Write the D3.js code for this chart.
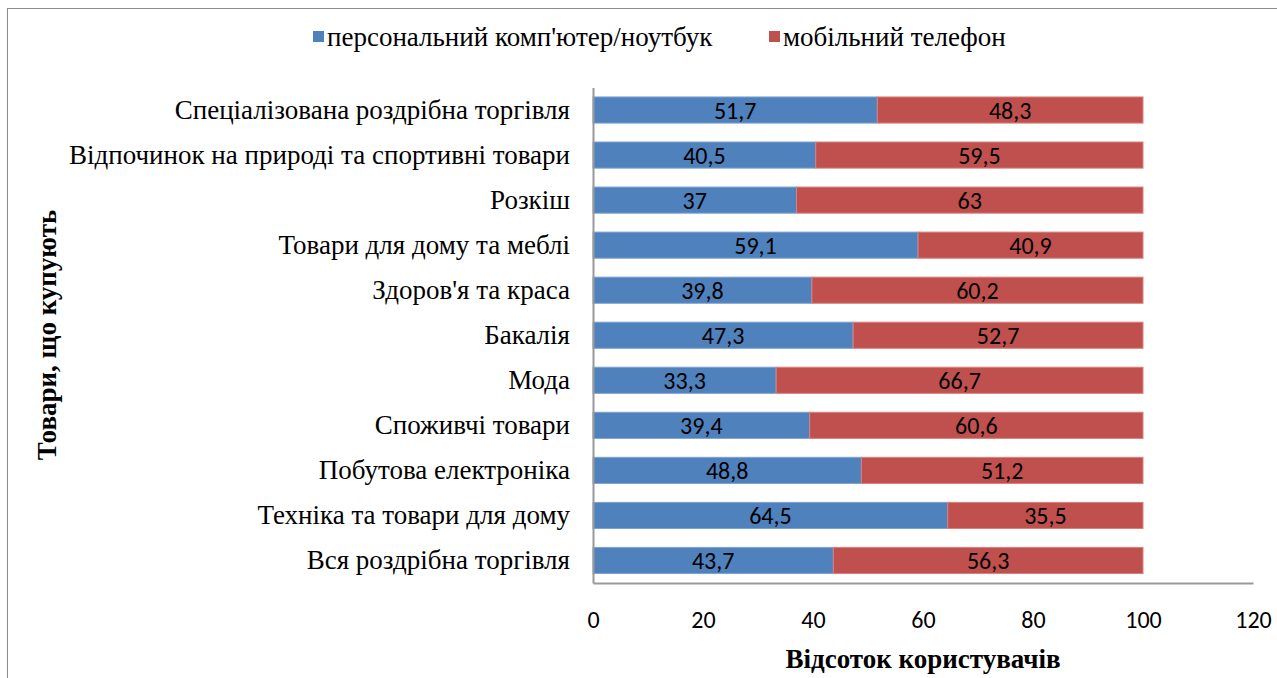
<!DOCTYPE html>
<html lang="uk">
<head>
    <meta charset="UTF-8">
    <title>Товари, що купують</title>
    <script src="https://d3js.org/d3.v7.min.js"></script>
    <style>
        body { margin: 0; background: #fff; }
    </style>
</head>
<body>
<script>

    // data, top to bottom as in the picture
    var categories = [
        'Спеціалізована роздрібна торгівля',
        'Відпочинок на природі та спортивні товари',
        'Розкіш',
        'Товари для дому та меблі',
        "Здоров'я та краса",
        'Бакалія',
        'Мода',
        'Споживчі товари',
        'Побутова електроніка',
        'Техніка та товари для дому',
        'Вся роздрібна торгівля'
    ];
    var pcValues = [51.7, 40.5, 37, 59.1, 39.8, 47.3, 33.3, 39.4, 48.8, 64.5, 43.7];
    var mobileValues = [48.3, 59.5, 63, 40.9, 60.2, 52.7, 66.7, 60.6, 51.2, 35.5, 56.3];
    var seriesNames = ["персональний комп'ютер/ноутбук", 'мобільний телефон'];
    var seriesColors = ['#4F81BD', '#C0504D'];
    var xTicks = [0, 20, 40, 60, 80, 100, 120];

    var W = 1277, H = 678;
    var plotLeft = 593, plotRight = 1253, plotTop = 87.5, plotBottom = 583;
    var numFont = "Carlito, Calibri, 'Open Sans', sans-serif";
    var serif = "'Liberation Serif', 'Times New Roman', serif";

    var svg = d3.select('body')
        .append('svg')
        .attr('width', W)
        .attr('height', H);

    // chart border (cut off on the right and bottom)
    svg.append('rect')
        .attr('x', 7.5).attr('y', 8.5)
        .attr('width', W + 20).attr('height', H + 20)
        .attr('fill', 'none')
        .attr('stroke', '#8c8c8c')
        .attr('stroke-width', 1);

    var x = d3.scaleLinear().domain([0, 120]).range([plotLeft, plotRight]);
    var y = d3.scaleBand().domain(categories).range([plotTop, plotBottom]).paddingInner(0.42).paddingOuter(0.21);

    var rows = categories.map(function (c, i) {
        return { cat: c, pc: pcValues[i], mob: mobileValues[i] };
    });
    var layers = d3.stack().keys(['pc', 'mob'])(rows);

    var g = svg.append('g');

    layers.forEach(function (layer, li) {
        var grp = g.append('g');
        grp.selectAll('rect')
            .data(layer)
            .enter()
            .append('rect')
            .attr('x', function (d) { return x(d[0]); })
            .attr('y', function (d) { return y(d.data.cat); })
            .attr('width', function (d) { return x(d[1]) - x(d[0]); })
            .attr('height', y.bandwidth())
            .attr('fill', seriesColors[li])
            .attr('stroke', li === 0 ? '#7ea2d0' : '#d8807e')
            .attr('stroke-width', 1);

        grp.selectAll('text')
            .data(layer)
            .enter()
            .append('text')
            .attr('x', function (d) { return (x(d[0]) + x(d[1])) / 2; })
            .attr('y', function (d) { return y(d.data.cat) + y.bandwidth() / 2; })
            .attr('dy', '0.36em')
            .attr('text-anchor', 'middle')
            .attr('font-family', numFont)
            .attr('font-size', '24px')
            .attr('fill', '#000')
            .text(function (d) { return String(+(d[1] - d[0]).toFixed(1)).replace('.', ','); });
    });

    // x axis
    var xAxis = d3.axisBottom(x).tickValues(xTicks).tickSize(0).tickPadding(27);
    var xg = svg.append('g')
        .attr('transform', 'translate(0,' + plotBottom + ')')
        .call(xAxis);
    xg.select('.domain').attr('stroke', '#999').attr('stroke-width', 2);
    xg.selectAll('text')
        .attr('dy', '0.36em')
        .attr('y', 36)
        .attr('font-family', numFont)
        .attr('font-size', '24px')
        .attr('fill', '#000');

    // y axis
    var yAxis = d3.axisLeft(y).tickSize(0).tickPadding(23);
    var yg = svg.append('g')
        .attr('transform', 'translate(' + plotLeft + ',0)')
        .call(yAxis);
    yg.select('.domain').attr('stroke', '#999').attr('stroke-width', 2);
    yg.selectAll('text')
        .attr('font-family', serif)
        .attr('font-size', '27px')
        .attr('fill', '#000');

    // axis titles
    svg.append('text')
        .attr('x', 923)
        .attr('y', 668)
        .attr('text-anchor', 'middle')
        .attr('font-family', serif)
        .attr('font-weight', 'bold')
        .attr('font-size', '27px')
        .text('Відсоток користувачів');

    svg.append('text')
        .attr('transform', 'translate(56,335) rotate(-90)')
        .attr('text-anchor', 'middle')
        .attr('font-family', serif)
        .attr('font-weight', 'bold')
        .attr('font-size', '27px')
        .text('Товари, що купують');

    // legend
    var legendX = [313, 769];
    var legend = svg.append('g');
    seriesNames.forEach(function (name, i) {
        legend.append('rect')
            .attr('x', legendX[i]).attr('y', 31)
            .attr('width', 11).attr('height', 11)
            .attr('fill', seriesColors[i]);
        legend.append('text')
            .attr('x', legendX[i] + 14)
            .attr('y', 46)
            .attr('font-family', serif)
            .attr('font-size', '27px')
            .text(name);
    });

</script>
</body>
</html>
